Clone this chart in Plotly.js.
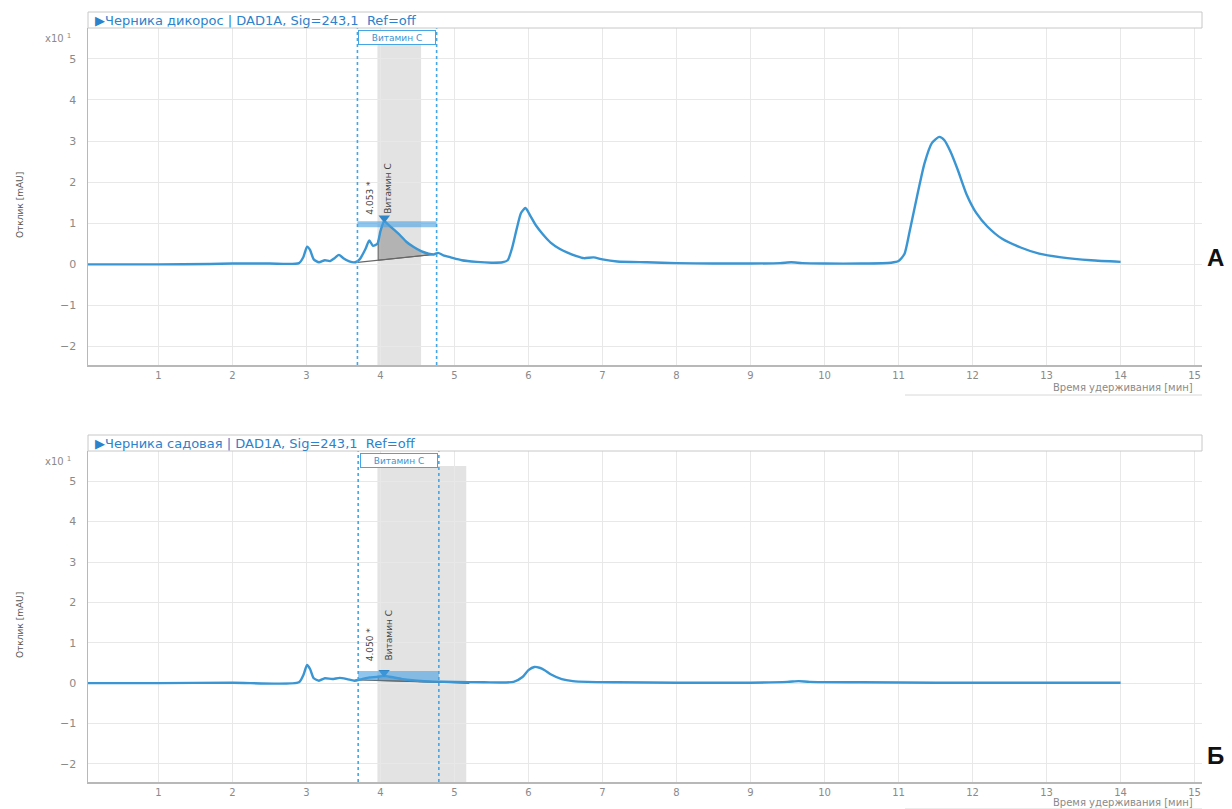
<!DOCTYPE html>
<html>
<head>
<meta charset="utf-8">
<script src="https://cdn.plot.ly/plotly-3.0.1.min.js"></script>
<style>html,body{margin:0;padding:0;background:#fff;}#chart{width:1232px;height:809px;}</style>
</head>
<body>
<div id="chart"></div>
<script>
// ---------- DATA ----------
const headerA = "▶Черника дикорос | DAD1A, Sig=243,1  Ref=off";
const headerB = "▶Черника садовая | DAD1A, Sig=243,1  Ref=off";
const panelLetters = ["А", "Б"];
const peakName = "Витамин С";
const xTickVals = [1,2,3,4,5,6,7,8,9,10,11,12,13,14,15];
const yTickVals = [-2,-1,0,1,2,3,4,5];
const xTitle = "Время удерживания [мин]";
const yTitle = "Отклик [mAU]";
const yScaleLabel = "x10 <sup>1</sup>";

// Panel A: Черника дикорос (retention time, min / response x10 mAU)
const timeA = [0.05,1.0,1.7,2.0,2.5,2.9,2.96,3.01,3.05,3.1,3.17,3.25,3.32,3.38,3.44,3.5,3.58,3.66,3.72,3.8,3.85,3.9,3.96,4.0,4.05,4.1,4.18,4.26,4.35,4.45,4.55,4.65,4.72,4.78,4.85,4.95,5.1,5.3,5.5,5.65,5.72,5.78,5.84,5.9,5.96,6.02,6.1,6.2,6.3,6.42,6.52,6.65,6.75,6.88,7.0,7.2,7.6,8.0,8.5,9.0,9.4,9.55,9.7,10.0,10.5,10.9,11.0,11.08,11.15,11.25,11.35,11.45,11.55,11.62,11.7,11.8,11.92,12.05,12.2,12.4,12.65,12.9,13.2,13.6,14.0];
const respA = [0,0,0.01,0.02,0.02,0.03,0.18,0.43,0.35,0.12,0.05,0.1,0.08,0.15,0.23,0.15,0.07,0.05,0.12,0.38,0.58,0.45,0.5,0.8,1.05,0.98,0.85,0.72,0.55,0.42,0.32,0.26,0.24,0.28,0.22,0.17,0.1,0.06,0.04,0.05,0.1,0.4,0.85,1.25,1.37,1.2,0.95,0.72,0.53,0.38,0.29,0.2,0.15,0.17,0.12,0.07,0.05,0.03,0.02,0.02,0.03,0.05,0.03,0.02,0.02,0.04,0.08,0.25,0.8,1.65,2.45,2.95,3.1,3.02,2.75,2.3,1.7,1.25,0.92,0.62,0.41,0.26,0.17,0.1,0.06];

// Panel Б: Черника садовая
const timeB = [0.05,1.0,2.0,2.9,2.96,3.01,3.05,3.1,3.17,3.25,3.35,3.45,3.55,3.65,3.75,3.85,3.95,4.05,4.15,4.3,4.5,4.7,5.0,5.4,5.8,5.92,6.0,6.08,6.15,6.22,6.3,6.45,6.6,6.8,7.2,8.0,9.0,9.5,9.65,9.8,10.5,11.5,12.5,13.5,14.0];
const respB = [0,0,0.01,0.02,0.2,0.45,0.35,0.12,0.06,0.12,0.1,0.13,0.1,0.06,0.1,0.14,0.15,0.18,0.15,0.1,0.06,0.04,0.03,0.02,0.03,0.15,0.32,0.4,0.38,0.32,0.22,0.1,0.05,0.03,0.02,0.01,0.01,0.03,0.05,0.03,0.02,0.01,0.01,0.01,0.01];

// Vitamin C peak annotations
const peakTimes = [4.053, 4.050];
const peakHeights = [1.05, 0.18];
const peakLabels = ["4.053 *", "4.050 *"];
// integration window (dotted lines) and shaded band
const windowA = [3.69, 4.76];
const windowB = [3.70, 4.79];
const bandA = [3.96, 4.55];
const bandB = [3.96, 5.16];
// integration baselines [t0,t1] / [v0,v1]
const baseTimeA = [3.66, 4.72];
const baseRespA = [0.04, 0.24];
const baseTimeB = [3.70, 5.20];
const baseRespB = [0.08, 0.0];
const dropTimeA = 3.97;
const dropTimeB = 3.97;
// horizontal peak bars (y0,y1)
const barA = [0.9, 1.05];
const barB = [0.07, 0.3];

// ---------- helpers ----------
function interp(ts, vs, t){
  for(let i=0;i<ts.length-1;i++){
    if(t>=ts[i] && t<=ts[i+1]){const f=(t-ts[i])/(ts[i+1]-ts[i]);return vs[i]+f*(vs[i+1]-vs[i]);}
  }
  return vs[vs.length-1];
}
function fillPoly(ts, vs, t0, t1, bt, bv){
  const xs=[t0], ys=[interp(ts,vs,t0)];
  for(let i=0;i<ts.length;i++){ if(ts[i]>t0 && ts[i]<t1){xs.push(ts[i]);ys.push(vs[i]);} }
  xs.push(t1); ys.push(interp(ts,vs,t1));
  xs.push(t1); ys.push(interp(bt,bv,t1));
  xs.push(t0); ys.push(interp(bt,bv,t0));
  xs.push(t0); ys.push(ys[0]);
  return {xs, ys};
}

const blue = '#3a95d3';
const dotBlue = '#45a6e6';
const polyA = fillPoly(timeA, respA, dropTimeA, baseTimeA[1], baseTimeA, baseRespA);
const polyB = fillPoly(timeB, respB, dropTimeB, baseTimeB[1], baseTimeB, baseRespB);

const traces = [
  {x: polyA.xs, y: polyA.ys, xaxis:'x', yaxis:'y', mode:'lines', fill:'toself', fillcolor:'rgba(140,140,140,0.55)', line:{color:'rgba(90,90,90,0.9)', width:1}, hoverinfo:'skip'},
  {x: polyB.xs, y: polyB.ys, xaxis:'x2', yaxis:'y2', mode:'lines', fill:'toself', fillcolor:'rgba(140,140,140,0.55)', line:{color:'rgba(90,90,90,0.9)', width:1}, hoverinfo:'skip'},
  {x: baseTimeA, y: baseRespA, xaxis:'x', yaxis:'y', mode:'lines', line:{color:'#666', width:1.2}},
  {x: baseTimeB, y: baseRespB, xaxis:'x2', yaxis:'y2', mode:'lines', line:{color:'#666', width:1.2}},
  {x: timeA, y: respA, xaxis:'x', yaxis:'y', mode:'lines', line:{color:blue, width:2.4, shape:'spline', smoothing:0.6}},
  {x: timeB, y: respB, xaxis:'x2', yaxis:'y2', mode:'lines', line:{color:blue, width:2.4, shape:'spline', smoothing:0.6}},
  {x: [peakTimes[0]], y: [peakHeights[0]+0.08], xaxis:'x', yaxis:'y', mode:'markers', marker:{symbol:'triangle-down', size:10, color:'#2f86c8'}},
  {x: [peakTimes[1]], y: [peakHeights[1]+0.08], xaxis:'x2', yaxis:'y2', mode:'markers', marker:{symbol:'triangle-down', size:10, color:'#2f86c8'}}
];

// pixel helpers for paper coords: plot area x 88..1202, y 28..782
const px = v => (v-88)/1114;
const py = v => (782-v)/754;

const shapes = [];
const annotations = [];
function panel(xr, yr, win, band, bar, bandTop, topPx, header, letter, letterY, yTitleY){
  const yd = yr + ' domain';
  shapes.push({type:'rect', xref:xr, yref:yd, x0:band[0], x1:band[1], y0:0, y1:bandTop, fillcolor:'#e3e3e3', line:{width:0}, layer:'below'});
  win.forEach(w => shapes.push({type:'line', xref:xr, yref:yd, x0:w, x1:w, y0:0, y1:1, line:{color:dotBlue, width:1.6, dash:'dot'}}));
  shapes.push({type:'rect', xref:xr, yref:yr, x0:win[0], x1:win[1], y0:bar[0], y1:bar[1], fillcolor:'rgba(70,160,225,0.6)', line:{width:0}});
  // header box
  shapes.push({type:'rect', xref:'paper', yref:'paper', x0:0, x1:1, y0:py(topPx), y1:py(topPx-16), fillcolor:'#fff', line:{color:'#c8c8c8', width:1}});
  annotations.push({xref:'paper', yref:'paper', x:px(93), y:py(topPx-8), xanchor:'left', yanchor:'middle', text:header, showarrow:false, font:{family:'DejaVu Sans', size:13, color:'#2c82cc'}});
  // Vitamin C label box
  annotations.push({xref:xr, yref:yd, x:(win[0]+win[1])/2, y:0.993, xanchor:'center', yanchor:'top', text:peakName, showarrow:false, width:74, height:11, bgcolor:'#fff', bordercolor:dotBlue, borderwidth:1, borderpad:1, font:{family:'DejaVu Sans', size:9, color:'#3a95d3'}});
  // scale label
  annotations.push({xref:'paper', yref:'paper', x:px(58), y:py(topPx+10), xanchor:'center', yanchor:'middle', text:yScaleLabel, showarrow:false, font:{family:'DejaVu Sans', size:10, color:'#8a8a8a'}});
  // y title
  annotations.push({xref:'paper', yref:'paper', x:px(20), y:py(yTitleY), xanchor:'center', yanchor:'middle', text:yTitle, textangle:-90, showarrow:false, font:{family:'DejaVu Sans', size:9, color:'#555'}});
  // panel letter
  annotations.push({xref:'paper', yref:'paper', x:px(1215), y:py(letterY), xanchor:'center', yanchor:'middle', text:'<b>'+letter+'</b>', showarrow:false, font:{family:'Liberation Sans', size:24, color:'#111'}});
}
panel('x', 'y', windowA, bandA, barA, 0.955, 28, headerA, panelLetters[0], 257, 205);
panel('x2', 'y2', windowB, bandB, barB, 0.955, 451, headerB, panelLetters[1], 755, 625);

// rotated peak labels
annotations.push({xref:'x', yref:'y', x:3.865, y:1.17, xanchor:'center', yanchor:'bottom', text:peakLabels[0], textangle:-90, showarrow:false, font:{family:'DejaVu Sans', size:9, color:'#444'}});
annotations.push({xref:'x', yref:'y', x:4.11, y:1.17, xanchor:'center', yanchor:'bottom', text:peakName, textangle:-90, showarrow:false, font:{family:'DejaVu Sans', size:9, color:'#444'}});
annotations.push({xref:'x2', yref:'y2', x:3.865, y:0.5, xanchor:'center', yanchor:'bottom', text:peakLabels[1], textangle:-90, showarrow:false, font:{family:'DejaVu Sans', size:9, color:'#444'}});
annotations.push({xref:'x2', yref:'y2', x:4.11, y:0.5, xanchor:'center', yanchor:'bottom', text:peakName, textangle:-90, showarrow:false, font:{family:'DejaVu Sans', size:9, color:'#444'}});

// x titles + separator lines
[[387, 395], [802, 809]].forEach(([ty, ly]) => {
  annotations.push({xref:'paper', yref:'paper', x:px(1195), y:py(ty), xanchor:'right', yanchor:'middle', text:xTitle, showarrow:false, font:{family:'DejaVu Sans', size:10, color:'#8a8a8a'}});
  shapes.push({type:'line', xref:'paper', yref:'paper', x0:px(905), x1:1, y0:py(ly), y1:py(ly), line:{color:'#d8d8d8', width:1}});
});

const xRange = [0.05, 15.1];
const yRange = [-2.45, 5.75];
const xa = {range:xRange, tickvals:xTickVals, showgrid:true, gridcolor:'#e8e8e8', showline:true, linecolor:'#b8b8b8', linewidth:1.5, zeroline:false, ticks:'', tickfont:{family:'DejaVu Sans', size:10, color:'#8a8a8a'}, fixedrange:true};
const ya = {range:yRange, tickvals:yTickVals, showgrid:true, gridcolor:'#e8e8e8', showline:true, linecolor:'#b8b8b8', linewidth:1.5, zeroline:false, ticks:'', ticklabelstandoff:8, tickfont:{family:'DejaVu Sans', size:11, color:'#8a8a8a'}, fixedrange:true};

const layout = {
  width:1232, height:809,
  margin:{l:88, r:30, t:28, b:27},
  paper_bgcolor:'#fff', plot_bgcolor:'#fff',
  showlegend:false,
  xaxis: Object.assign({}, xa, {anchor:'y', domain:[0,1]}),
  yaxis: Object.assign({}, ya, {anchor:'x', domain:[0.553,1]}),
  xaxis2: Object.assign({}, xa, {anchor:'y2', domain:[0,1]}),
  yaxis2: Object.assign({}, ya, {anchor:'x2', domain:[0,0.439]}),
  shapes, annotations
};
Plotly.newPlot('chart', traces, layout, {displayModeBar:false, staticPlot:true});
</script>
</body>
</html>
